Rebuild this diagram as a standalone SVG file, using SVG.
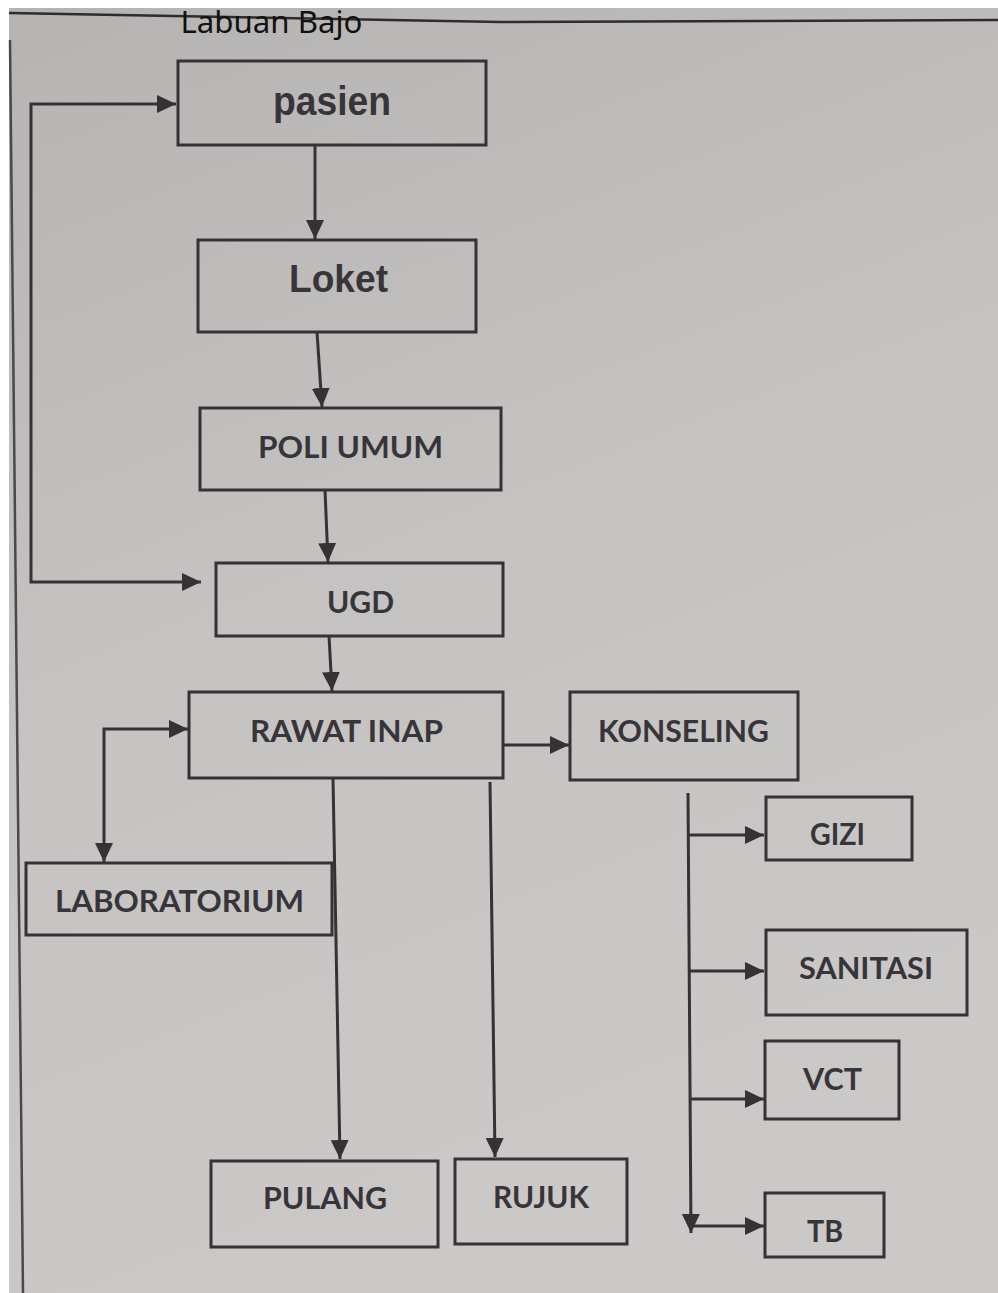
<svg xmlns="http://www.w3.org/2000/svg" width="998" height="1293" viewBox="0 0 998 1293">
<defs>
<linearGradient id="paper" x1="0" y1="0" x2="0.3" y2="1">
<stop offset="0" stop-color="#b6b4b3"/>
<stop offset="0.5" stop-color="#c5c3c1"/>
<stop offset="1" stop-color="#cbc9c7"/>
</linearGradient>
<marker id="ah" markerUnits="userSpaceOnUse" markerWidth="21" markerHeight="18" refX="19" refY="9" orient="auto-start-reverse">
<path d="M0,0 L19,9 L0,18 z" fill="#353233"/>
</marker>
<style>
.box{fill:none;stroke:#353233;stroke-width:3}
.lbl{font-family:Lato,"Liberation Sans",sans-serif;font-weight:bold;font-size:31px;fill:#38353a;text-anchor:middle}
.ar{font-family:"Liberation Sans",Arial,sans-serif;font-weight:bold;fill:#38353a;text-anchor:middle}
.cn{fill:none;stroke:#353233;stroke-width:3}
</style>
</defs>
<rect x="0" y="0" width="998" height="1293" fill="#ffffff"/>
<rect x="9" y="8" width="989" height="1285" fill="url(#paper)"/>
<polyline points="9,13 500,22 998,20" fill="none" stroke="#2e2c2c" stroke-width="2.5"/>
<line x1="10" y1="40" x2="23" y2="1293" stroke="#4a4848" stroke-width="2.5"/>
<text x="271.5" y="33" font-family="'Noto Sans','Open Sans',sans-serif" font-size="30.5" fill="#111111" text-anchor="middle" textLength="182" lengthAdjust="spacingAndGlyphs">Labuan Bajo</text>

<g id="connectors">
<path class="cn" d="M201,582 H31 V104 H176" marker-start="url(#ah)" marker-end="url(#ah)"/>
<line class="cn" x1="315" y1="145" x2="315" y2="239" marker-end="url(#ah)"/>
<line class="cn" x1="317" y1="332" x2="322" y2="407" marker-end="url(#ah)"/>
<line class="cn" x1="325" y1="490" x2="328" y2="562" marker-end="url(#ah)"/>
<line class="cn" x1="329" y1="636" x2="332" y2="691" marker-end="url(#ah)"/>
<path class="cn" d="M188,729 H104 V862" marker-start="url(#ah)" marker-end="url(#ah)"/>
<line class="cn" x1="333" y1="778" x2="340" y2="1159" marker-end="url(#ah)"/>
<line class="cn" x1="490" y1="782" x2="495" y2="1157" marker-end="url(#ah)"/>
<line class="cn" x1="503" y1="745" x2="569" y2="745" marker-end="url(#ah)"/>
<line class="cn" x1="688" y1="793" x2="691" y2="1233" marker-end="url(#ah)"/>
<line class="cn" x1="688" y1="835" x2="764" y2="835" marker-end="url(#ah)"/>
<line class="cn" x1="689" y1="971" x2="764" y2="971" marker-end="url(#ah)"/>
<line class="cn" x1="690" y1="1099" x2="764" y2="1099" marker-end="url(#ah)"/>
<line class="cn" x1="692" y1="1226" x2="764" y2="1226" marker-end="url(#ah)"/>
</g>

<g id="pasien"><rect class="box" x="178" y="61" width="308" height="84"/><text class="ar" x="332" y="115" font-size="40" textLength="118" lengthAdjust="spacingAndGlyphs">pasien</text></g>
<g id="loket"><rect class="box" x="198" y="240" width="278" height="92"/><text class="ar" x="338.5" y="292" font-size="38" textLength="99" lengthAdjust="spacingAndGlyphs">Loket</text></g>
<g id="poli-umum"><rect class="box" x="200" y="408" width="301" height="82"/><text class="lbl" x="350.5" y="458" textLength="185" lengthAdjust="spacingAndGlyphs">POLI UMUM</text></g>
<g id="ugd"><rect class="box" x="216" y="563" width="287" height="73"/><text class="lbl" x="360.5" y="613" textLength="67" lengthAdjust="spacingAndGlyphs">UGD</text></g>
<g id="rawat-inap"><rect class="box" x="189" y="692" width="314" height="86"/><text class="lbl" x="346.5" y="742" font-size="33" textLength="193" lengthAdjust="spacingAndGlyphs">RAWAT INAP</text></g>
<g id="konseling"><rect class="box" x="570" y="692" width="228" height="88"/><text class="lbl" x="683.5" y="742" font-size="33" textLength="171" lengthAdjust="spacingAndGlyphs">KONSELING</text></g>
<g id="laboratorium"><rect class="box" x="26" y="863" width="306" height="72"/><text class="lbl" x="179.5" y="912" font-size="33" textLength="249" lengthAdjust="spacingAndGlyphs">LABORATORIUM</text></g>
<g id="pulang"><rect class="box" x="211" y="1161" width="227" height="86"/><text class="lbl" x="325" y="1209" textLength="124" lengthAdjust="spacingAndGlyphs">PULANG</text></g>
<g id="rujuk"><rect class="box" x="455" y="1159" width="172" height="85"/><text class="lbl" x="541" y="1208" textLength="96" lengthAdjust="spacingAndGlyphs">RUJUK</text></g>
<g id="gizi"><rect class="box" x="766" y="797" width="146" height="63"/><text class="lbl" x="837.5" y="845" font-size="29" textLength="55" lengthAdjust="spacingAndGlyphs">GIZI</text></g>
<g id="sanitasi"><rect class="box" x="766" y="930" width="201" height="85"/><text class="lbl" x="866" y="979" textLength="134" lengthAdjust="spacingAndGlyphs">SANITASI</text></g>
<g id="vct"><rect class="box" x="765" y="1041" width="134" height="78"/><text class="lbl" x="832.5" y="1090" textLength="59" lengthAdjust="spacingAndGlyphs">VCT</text></g>
<g id="tb"><rect class="box" x="765" y="1193" width="119" height="64"/><text class="lbl" x="825" y="1242" font-size="29" textLength="36" lengthAdjust="spacingAndGlyphs">TB</text></g>
</svg>
